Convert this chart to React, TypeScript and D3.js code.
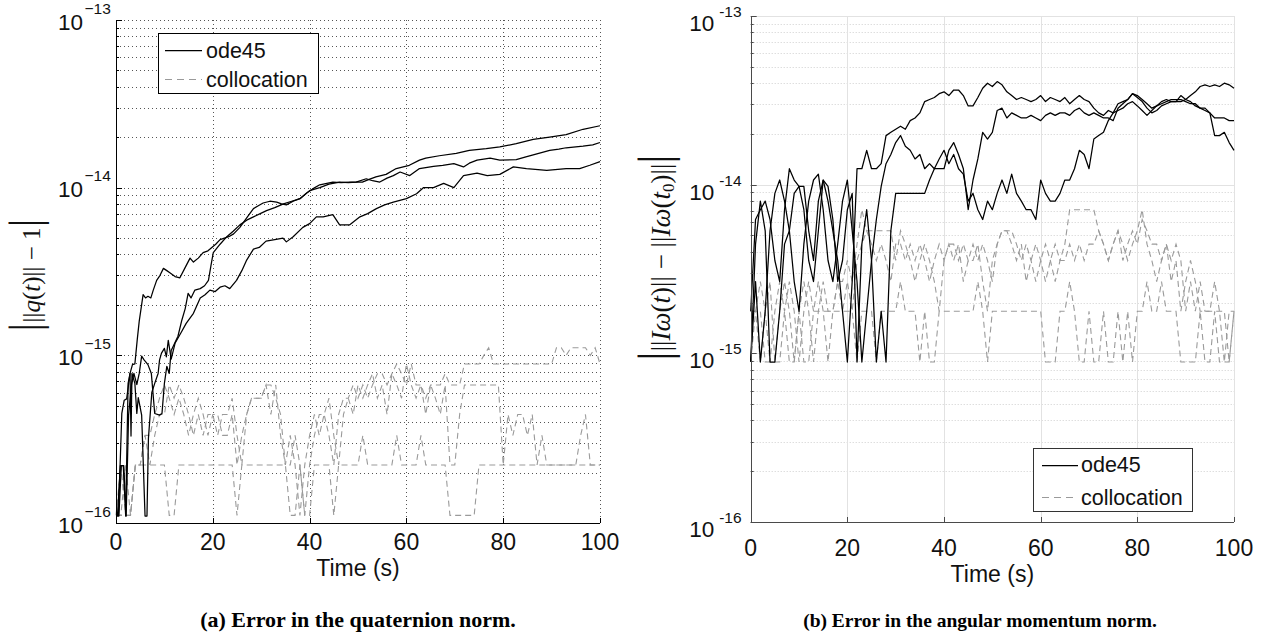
import React from 'react';
import * as d3 from 'd3';

// ---------------- data ----------------
const timeTicks = [0, 20, 40, 60, 80, 100];
const decadeExponents = [-16, -15, -14, -13];
const minorMultipliers = [2, 3, 4, 5, 6, 7, 8, 9];
const legendLabels = ['ode45', 'collocation'];
const captionA = '(a) Error in the quaternion norm.';
const captionB = '(b) Error in the angular momentum norm.';
const xAxisLabel = 'Time (s)';

// errors are integer multiples of a floating point quantum
const quatQuantum = 1.11e-16;
const momQuantum = 8.88e-16;
const sampleTimes = [
  0,1,2,3,4,5,6,7,8,9,10,11,12,13,14,15,16,17,18,19,20,21,22,23,24,25,26,27,28,29,30,
  31,32,33,34,35,36,37,38,39,40,41,42,43,44,45,46,47,48,49,50,51,52,53,54,55,56,57,58,59,60,
  61,62,63,64,65,66,67,68,69,70,71,72,73,74,75,76,77,78,79,80,81,82,83,84,85,86,87,88,89,90,
  91,92,93,94,95,96,97,98,99,100,
];

// (a) quaternion norm error, ode45 runs: [time, error]
const quatOde45A: [number, number][] = [
  [0.5,1.1e-16],[1.2,4.5e-16],[1.7,5.4e-16],[2.2,5.5e-16],[2.9,7.8e-16],[3.4,8.8e-16],[3.9,8.9e-16],
  [4.4,1.25e-15],[4.8,1.6e-15],[5.6,2.3e-15],[6.1,2.2e-15],[6.6,2.25e-15],[7.2,2.2e-15],[7.7,2.45e-15],
  [8.4,2.8e-15],[9.1,3.0e-15],[9.8,3.3e-15],[10.5,3.2e-15],[11.2,3.1e-15],[12.2,2.95e-15],[13.2,2.9e-15],
  [14.2,3.3e-15],[15.3,3.8e-15],[16,3.6e-15],[17,3.8e-15],[18,4.1e-15],[19,4.2e-15],[19.8,4.4e-15],
  [20.6,4.6e-15],[21.5,4.9e-15],[22.4,5.0e-15],[23.3,5.1e-15],[24.3,5.3e-15],[25.6,5.8e-15],[27,6.6e-15],
  [28.4,7.5e-15],[29.4,7.8e-15],[30.4,8.1e-15],[31.8,8.3e-15],[33.2,8.2e-15],[34.2,8.0e-15],[35.2,7.9e-15],
  [36.6,8.3e-15],[38,8.6e-15],[40,9.6e-15],[42.1,1.0e-14],[44,1.05e-14],[46.2,1.08e-14],[48,1.07e-14],
  [49.6,1.08e-14],[51.7,1.13e-14],[53,1.1e-14],[54.5,1.08e-14],[56,1.14e-14],[57.3,1.18e-14],[58.7,1.24e-14],
  [60.7,1.18e-14],[62.7,1.3e-14],[65.6,1.34e-14],[67.5,1.36e-14],[69.8,1.39e-14],[71.8,1.33e-14],[73,1.4e-14],
  [74.6,1.46e-14],[77.3,1.5e-14],[79.3,1.46e-14],[82.7,1.47e-14],[84.5,1.52e-14],[86.2,1.57e-14],
  [89.6,1.67e-14],[91.5,1.7e-14],[93,1.73e-14],[96.5,1.77e-14],[98.5,1.8e-14],[100,1.86e-14],
];
const quatOde45B: [number, number][] = [
  [0.3,1.1e-16],[0.9,2.2e-16],[1.5,2.2e-16],[2.0,1.1e-16],[2.5,6.8e-16],[2.9,7.8e-16],[3.1,3.3e-16],
  [3.3,7.8e-16],[3.9,6.8e-16],[4.3,4.5e-16],[4.6,5.6e-16],[5.3,4.4e-16],[6.0,1.1e-16],[6.4,1.1e-16],
  [6.7,3.2e-16],[7.4,6.0e-16],[8.0,6.8e-16],[8.7,7.8e-16],[9.0,9.4e-16],[9.4,1.03e-15],[10,1.1e-15],
  [10.4,9.8e-16],[10.8,1.23e-15],[11.4,9.5e-16],[12.2,1.18e-15],[13.4,1.36e-15],[14.5,1.55e-15],
  [16,1.78e-15],[17.4,2.2e-15],[18.4,2.3e-15],[19.4,2.45e-15],[20.5,2.4e-15],[21.5,2.55e-15],[22.5,2.6e-15],
  [23.5,2.5e-15],[24.9,2.8e-15],[26,3.2e-15],[27,3.7e-15],[28.4,4.3e-15],[29.6,4.4e-15],[31,4.8e-15],
  [32.8,4.9e-15],[34.5,5.0e-15],[35.2,4.75e-15],[36.6,5.1e-15],[38.6,5.8e-15],[40,6.1e-15],[41.4,6.7e-15],
  [42.8,6.7e-15],[44.8,6.9e-15],[46.2,6.0e-15],[48.3,6.0e-15],[50.4,6.7e-15],[52,7.0e-15],[53.8,7.5e-15],
  [55.5,7.9e-15],[57.3,8.2e-15],[60,8.6e-15],[62.1,9.2e-15],[63.5,1.0e-14],[65.6,1.0e-14],[67.7,1.06e-14],
  [69.8,1.0e-14],[71.8,1.18e-14],[74.6,1.22e-14],[76.7,1.18e-14],[79.3,1.2e-14],[82.1,1.33e-14],
  [84.8,1.3e-14],[89,1.27e-14],[93,1.3e-14],[95.8,1.3e-14],[97.9,1.36e-14],[100,1.43e-14],
];
const quatOde45C: [number, number][] = [
  [0.2,1.1e-16],[0.6,1.1e-16],[1.1,2.2e-16],[1.6,2.2e-16],[2.1,1.1e-16],[2.6,4.4e-16],[3.2,6.7e-16],
  [3.7,7.8e-16],[4.3,6.7e-16],[4.8,7.8e-16],[5.3,9.9e-16],[5.8,9.4e-16],[6.6,8.8e-16],[7.3,7.8e-16],
  [8.0,4.5e-16],[9.0,4.4e-16],[9.5,4.5e-16],[10,6.8e-16],[10.5,8.6e-16],[11,7.8e-16],[11.4,1.07e-15],
  [11.8,1.13e-15],[12.8,1.3e-15],[13.6,1.62e-15],[14.3,1.9e-15],[14.9,2.34e-15],[15.5,2.2e-15],
  [16.3,2.45e-15],[17.4,2.5e-15],[18.3,2.6e-15],[19.1,2.8e-15],[19.6,3.4e-15],[20.1,4.1e-15],[21.5,4.6e-15],
  [22.9,5.1e-15],[24.2,5.5e-15],[25.6,6.0e-15],[27,6.4e-15],[28.4,6.7e-15],[29.8,7.0e-15],[31.1,7.3e-15],
  [32.8,7.6e-15],[34.6,8.0e-15],[36.3,8.3e-15],[38,8.6e-15],[39.4,9.3e-15],[40.8,9.9e-15],[42.1,1.04e-14],
  [44.8,1.08e-14],[46.5,1.07e-14],[48.3,1.08e-14],[50.9,1.08e-14],[52.3,1.12e-14],[53.7,1.16e-14],
  [55.8,1.2e-14],[57.9,1.3e-14],[60.6,1.36e-14],[62.7,1.46e-14],[64,1.5e-14],[66.8,1.55e-14],[70.3,1.6e-14],
  [73,1.67e-14],[76.5,1.71e-14],[79.3,1.75e-14],[82.7,1.83e-14],[86.2,1.94e-14],[89.6,2.0e-14],
  [93,2.07e-14],[96.5,2.23e-14],[100,2.34e-14],
];

// (a) collocation runs, in units of quatQuantum, one value per second
const quatCollocK1 = [
  1,1,1,1,2,2,2,2,2,2, 2,1,1,2,2,2,2,2,2,2, 2,2,2,2,2,1,2,2,2,2, 2,2,2,2,2,2,1,1,2,1,
  1,2,2,2,2,1,2,2,2,2, 2,3,2,2,2,2,2,2,3,2, 2,2,2,3,2,2,2,2,2,1, 1,1,1,1,1,2,2,2,2,2,
  2,2,2,2,2,2,2,2,2,2, 2,2,2,2,2,2,2,2,2,2, 2,
];
const quatCollocK2 = [
  1,1,2,1,2,2,3,2,3,4, 4,6,5,6,5,4,3,4,3,4, 4,3,4,4,5,3,2,4,5,5, 5,6,4,6,3,2,3,2,1,2,
  3,4,3,4,5,3,2,4,5,4, 6,5,6,7,5,6,4,7,6,5, 8,6,5,6,4,6,5,4,6,2, 2,4,6,6,6,6,6,6,6,6,
  2,4,3,4,4,3,4,2,3,2, 2,2,2,2,2,2,3,4,2,2, 2,
];
const quatCollocK3 = [
  1,2,1,1,2,2,3,3,4,5, 6,5,4,5,4,3,4,5,4,3, 4,4,3,3,4,2,3,4,5,5, 5,6,6,5,4,2,2,3,2,1,
  2,3,4,4,3,2,4,5,5,6, 5,6,5,6,7,7,6,7,8,7, 6,8,6,6,5,6,6,6,7,6, 6,6,8,8,8,8,9,10,8,8,
  8,8,8,8,8,8,8,8,8,8, 8,10,10,9,10,10,10,10,9,10, 8,
];

// (b) angular momentum norm error, in units of momQuantum, one value per second
const momOde45K1 = [
  2,7,8,9,7,4,3,8,14,12, 11,11,6,4,9,12,9,6,4,2, 1,3,14,14,18,14,14,15,22,23,
  24,25,24,27,28,30,35,36,37,39, 40,38,41,41,38,33,33,37,42,45, 43,46,44,40,38,36,37,36,35,36,
  38,35,37,36,35,37,34,36,38,36, 35,32,30,29,31,30,34,35,36,39, 38,36,34,32,33,35,36,35,35,35,
  36,38,40,43,44,43,44,43,45,44, 42,
];
const momOde45K2 = [
  1,5,9,6,1,1,2,5,6,10, 11,8,4,3,6,12,11,7,3,4, 8,10,1,5,8,4,1,2,1,6,
  10,10,10,10,10,10,10,12,14,14, 14,18,20,17,14,8,12,16,23,21, 23,31,32,28,30,29,28,28,29,28,
  27,29,30,29,30,30,29,31,32,30, 29,30,29,28,28,27,32,34,36,39, 37,35,32,30,31,33,34,35,35,38,
  36,35,33,32,32,30,28,28,28,27, 27,
];
const momOde45K3 = [
  1,3,1,2,6,10,12,9,6,3, 2,5,9,12,13,8,4,3,5,9, 12,6,3,1,2,4,7,11,15,17,
  20,22,19,18,16,17,14,15,14,16, 18,15,17,14,13,9,10,8,7,9, 8,10,12,10,13,10,9,8,8,7,
  12,10,9,9,10,12,12,14,18,17, 14,21,22,23,27,30,31,32,34,35, 33,31,29,31,33,34,35,36,36,36,
  35,34,34,32,31,30,22,22,23,20, 18,
];
const momCollocK1 = [
  2,2,2,1,1,1,1,2,1,1, 2,1,1,2,2,2,2,2,2,2, 2,2,1,2,2,2,1,2,2,2, 2,3,2,2,2,1,2,1,1,2,
  2,2,2,2,2,2,2,3,2,1, 2,2,2,2,2,2,2,2,2,2, 2,1,1,1,2,2,3,2,1,1, 2,1,1,2,1,1,2,1,2,1,
  2,2,3,2,2,3,2,2,2,1, 1,1,1,2,1,1,2,1,1,1, 2,
];
const momCollocK2 = [
  1,2,3,2,1,2,3,2,3,2, 1,2,3,2,3,2,1,2,3,3, 4,3,5,8,6,6,6,6,6,6, 4,6,5,4,3,4,5,4,3,2,
  4,5,4,5,3,4,4,5,3,2, 4,5,6,6,6,5,4,5,4,3, 4,5,4,3,4,5,8,8,8,8, 8,8,6,5,4,5,6,5,4,5,
  6,8,5,4,3,4,5,3,4,2, 3,4,3,2,2,2,2,2,2,1, 2,
];
const momCollocK3 = [
  2,2,1,2,3,1,2,3,2,1, 2,3,2,1,2,3,2,2,3,2, 3,2,4,5,6,5,4,5,4,3, 5,5,4,5,4,5,4,3,4,5,
  4,5,5,4,5,4,5,4,5,4, 3,5,6,6,5,4,5,3,4,5, 4,3,4,5,4,4,5,4,5,4, 5,5,6,5,4,5,6,4,5,6,
  5,7,6,5,5,4,5,4,5,4, 2,3,2,3,2,2,3,2,1,2, 2,
];

// ---------------- helpers ----------------
const toSeries = (ks: number[], q: number): [number, number][] =>
  ks.map((k, i) => [sampleTimes[i], k * q]);

type Legend = { x: number; y: number; w: number; h: number; rows: number[]; l0: number; l1: number; tx: number };
type Cfg = {
  left: number; right: number; top: number; bottom: number;
  style: 'a' | 'b';
  ode: [number, number][][];
  colloc: [number, number][][];
  legend: Legend;
  xLabelY: number; xTickY: number;
  caption: string; captionX: number; captionY: number; captionSize: number;
};

const SANS = "'Liberation Sans', Arial, Helvetica, sans-serif";
const SERIF = "'Liberation Serif', 'Times New Roman', 'DejaVu Serif', serif";
const sn = (v: number) => Math.round(v) + 0.5;

function Panel({ cfg }: { cfg: Cfg }) {
  const x = d3.scaleLinear().domain([0, 100]).range([cfg.left, cfg.right]);
  const y = d3.scaleLog().domain([1e-16, 1e-13]).range([cfg.bottom, cfg.top]);
  const line = d3.line<[number, number]>().x((d) => x(d[0])).y((d) => y(d[1]));
  const majors = decadeExponents.map((e) => Math.pow(10, e));
  const minors = decadeExponents.slice(0, -1).flatMap((e) => minorMultipliers.map((m) => m * Math.pow(10, e)));
  const a = cfg.style === 'a';

  const gridMajorH = a
    ? { stroke: '#555', strokeDasharray: '1,3', strokeWidth: 1 }
    : { stroke: '#e2e2e2', strokeWidth: 1 };
  const gridMinorH = a
    ? { stroke: '#555', strokeDasharray: '1,3', strokeWidth: 1 }
    : { stroke: '#cfcfcf', strokeDasharray: '1,2', strokeWidth: 1 };
  const axisColor = a ? '#000' : '#4a4a4a';
  const lg = cfg.legend;

  return (
    <g>
      {/* grid */}
      {minors.map((v, i) => (
        <line key={'mn' + i} x1={cfg.left} x2={cfg.right} y1={sn(y(v))} y2={sn(y(v))} {...gridMinorH} />
      ))}
      {majors.slice(1).map((v, i) => (
        <line key={'mj' + i} x1={cfg.left} x2={cfg.right} y1={sn(y(v))} y2={sn(y(v))} {...gridMajorH} />
      ))}
      {timeTicks.slice(1).map((t, i) => (
        <line key={'vx' + i} x1={sn(x(t))} x2={sn(x(t))} y1={cfg.top} y2={cfg.bottom} {...gridMajorH} />
      ))}

      {/* data */}
      {cfg.colloc.map((s, i) => (
        <path key={'c' + i} d={line(s) || ''} fill="none" stroke="#9a9a9a" strokeWidth={1.1} strokeDasharray="6,4" />
      ))}
      {cfg.ode.map((s, i) => (
        <path key={'o' + i} d={line(s) || ''} fill="none" stroke="#000" strokeWidth={1.25} strokeLinejoin="round" />
      ))}

      {/* axes */}
      <line x1={sn(cfg.left)} x2={sn(cfg.left)} y1={cfg.top} y2={cfg.bottom + 0.5} stroke={axisColor} strokeWidth={1} />
      <line x1={cfg.left} x2={cfg.right} y1={sn(cfg.bottom)} y2={sn(cfg.bottom)} stroke={axisColor} strokeWidth={1} />
      {majors.map((v, i) => (
        <line key={'ytk' + i} x1={cfg.left} x2={cfg.left + 6} y1={sn(y(v))} y2={sn(y(v))} stroke={axisColor} />
      ))}
      {minors.map((v, i) => (
        <line key={'ymk' + i} x1={cfg.left} x2={cfg.left + 3} y1={sn(y(v))} y2={sn(y(v))} stroke={axisColor} />
      ))}
      {timeTicks.map((t, i) => (
        <line key={'xtk' + i} x1={sn(x(t))} x2={sn(x(t))} y1={cfg.bottom} y2={cfg.bottom - 5} stroke={axisColor} />
      ))}

      {/* tick labels */}
      {decadeExponents.map((e, i) => {
        const ty = y(Math.pow(10, e));
        const baseEnd = a ? cfg.left - 33 : cfg.left - 36.5;
        const expStart = cfg.left - 31.5;
        const baseY = a ? ty + 9.6 : ty + 15;
        const expY = a ? ty - 6.5 : ty + 1;
        const expText = (a ? '\u2212' : '-') + String(Math.abs(e));
        return (
          <g key={'yl' + i} fontFamily={SANS} fill="#111">
            <text x={baseEnd} y={baseY} fontSize={22.5} textAnchor="end">10</text>
            <text x={expStart} y={expY} fontSize={15.5} textAnchor="start">{expText}</text>
          </g>
        );
      })}
      {timeTicks.map((t, i) => (
        <text key={'xl' + i} x={x(t)} y={cfg.xTickY} fontFamily={SANS} fontSize={23} textAnchor="middle" fill="#111">
          {t}
        </text>
      ))}
      <text x={(cfg.left + cfg.right) / 2} y={cfg.xLabelY} fontFamily={SANS} fontSize={23} textAnchor="middle" fill="#111">
        {xAxisLabel}
      </text>

      {/* legend */}
      <rect x={sn(lg.x)} y={sn(lg.y)} width={Math.round(lg.w)} height={Math.round(lg.h)} fill="#fff" stroke={a ? '#000' : '#333'} strokeWidth={1} />
      <line x1={lg.l0} x2={lg.l1} y1={sn(lg.rows[0])} y2={sn(lg.rows[0])} stroke="#000" strokeWidth={1.25} />
      <line x1={lg.l0} x2={lg.l1} y1={sn(lg.rows[1])} y2={sn(lg.rows[1])} stroke="#9a9a9a" strokeWidth={1.1} strokeDasharray="7,5" />
      {legendLabels.map((s, i) => (
        <text key={'lg' + i} x={lg.tx} y={lg.rows[i] + 7.8} fontFamily={SANS} fontSize={21.5} fill="#111">
          {s}
        </text>
      ))}

      <text x={cfg.captionX} y={cfg.captionY} fontFamily={SERIF} fontWeight="bold" fontSize={cfg.captionSize} textAnchor="middle" fill="#000">
        {cfg.caption}
      </text>
    </g>
  );
}

export default function App() {
  const cfgA: Cfg = {
    left: 116, right: 600, top: 20, bottom: 523, style: 'a',
    ode: [quatOde45A, quatOde45B, quatOde45C],
    colloc: [toSeries(quatCollocK1, quatQuantum), toSeries(quatCollocK2, quatQuantum), toSeries(quatCollocK3, quatQuantum)],
    legend: { x: 157.7, y: 33, w: 160, h: 60, rows: [50, 79], l0: 165, l1: 202, tx: 206 },
    xLabelY: 576, xTickY: 550,
    caption: captionA, captionX: 358, captionY: 627, captionSize: 22,
  };
  const cfgB: Cfg = {
    left: 750.7, right: 1234, top: 16, bottom: 522, style: 'b',
    ode: [toSeries(momOde45K1, momQuantum), toSeries(momOde45K2, momQuantum), toSeries(momOde45K3, momQuantum)],
    colloc: [toSeries(momCollocK1, momQuantum), toSeries(momCollocK2, momQuantum), toSeries(momCollocK3, momQuantum)],
    legend: { x: 1033, y: 448, w: 159, h: 63, rows: [464.5, 497], l0: 1042, l1: 1078, tx: 1081 },
    xLabelY: 582, xTickY: 556,
    caption: captionB, captionX: 980, captionY: 627, captionSize: 19.5,
  };
  return (
    <svg width={1268} height={636} viewBox="0 0 1268 636" style={{ position: 'absolute', left: 0, top: 0, background: '#fff' }}>
      <rect width={1268} height={636} fill="#fff" />
      <Panel cfg={cfgA} />
      <Panel cfg={cfgB} />
      {/* y labels */}
      <text transform="translate(40,275) rotate(-90)" textAnchor="middle" fontFamily={SERIF} fontSize={25} fill="#111">
        <tspan fontSize={45}>|</tspan>
        <tspan>||</tspan>
        <tspan fontStyle="italic">q</tspan>
        <tspan>(</tspan>
        <tspan fontStyle="italic">t</tspan>
        <tspan>)|| − 1</tspan>
        <tspan fontSize={45}>|</tspan>
      </text>
      <text transform="translate(670,257.5) rotate(-90)" textAnchor="middle" fontFamily={SERIF} fontSize={27} fill="#111">
        <tspan fontSize={47}>|</tspan>
        <tspan>||</tspan>
        <tspan fontStyle="italic">Iω</tspan>
        <tspan>(</tspan>
        <tspan fontStyle="italic">t</tspan>
        <tspan>)|| − ||</tspan>
        <tspan fontStyle="italic">Iω</tspan>
        <tspan>(</tspan>
        <tspan fontStyle="italic">t</tspan>
        <tspan fontSize={17} dy={4}>0</tspan>
        <tspan dy={-4}>)||</tspan>
        <tspan fontSize={47}>|</tspan>
      </text>
    </svg>
  );
}
